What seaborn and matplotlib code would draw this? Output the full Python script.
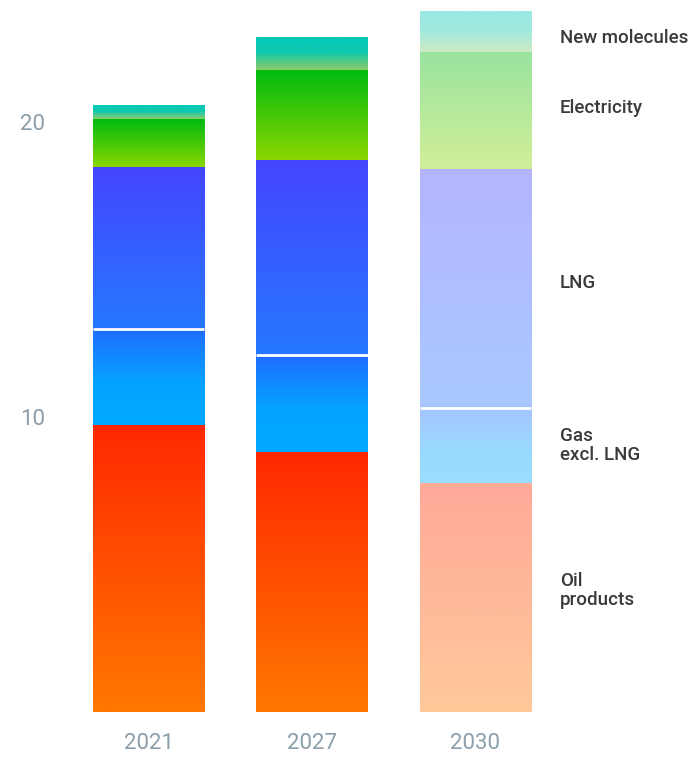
import numpy as np
import matplotlib
matplotlib.use("Agg")
import matplotlib.pyplot as plt
import seaborn as sns
from matplotlib.colors import to_rgb

# Demand by source for each year
years = ["2021", "2027", "2030"]
segments = ["Oil products", "Gas excl. LNG", "LNG", "Electricity", "New molecules"]
segment_labels = ["Oil\nproducts", "Gas\nexcl. LNG", "LNG", "Electricity", "New molecules"]
oil_products = [9.7, 8.8, 7.75]
gas_excl_lng = [3.3, 3.3, 2.55]
lng = [5.45, 6.6, 8.1]
electricity = [1.65, 3.05, 3.95]
new_molecules = [0.45, 1.1, 1.4]
yticks = [10, 20]

# Vertical gradient stops (0 = top of segment, 1 = bottom)
gradients = {
    "Oil products": [(0.0, "#ff2800"), (1.0, "#ff7800")],
    "Gas excl. LNG": [(0.0, "#1f6cff"), (0.55, "#05a2ff"), (1.0, "#00aaff")],
    "LNG": [(0.0, "#4545ff"), (1.0, "#2578ff")],
    "Electricity": [(0.0, "#00bb10"), (1.0, "#8cd600")],
    "New molecules": [(0.0, "#00c8b8"), (0.45, "#10c8b0"), (1.0, "#8ccc66")],
}
faded_years = {"2030": 0.4}

# Small vertical nudges (points) for the side labels
label_nudge = [5, 0, 4, 2, -4]

values = np.array([oil_products, gas_excl_lng, lng, electricity, new_molecules])
cum = np.cumsum(values, axis=0)


def gradient_image(stops, alpha=1.0, n=256):
    pos = np.array([s[0] for s in stops])
    cols = np.array([to_rgb(s[1]) for s in stops])
    t = np.linspace(0, 1, n)
    rgb = np.stack([np.interp(t, pos, cols[:, k]) for k in range(3)], axis=-1)
    rgb = alpha * rgb + (1 - alpha) * 1.0
    return rgb[:, None, :]


sns.set_theme(style="white")
plt.rcParams["font.family"] = ["Roboto", "DejaVu Sans"]

fig = plt.figure(figsize=(6.94, 7.57), dpi=100)
ax = fig.add_axes([60 / 694, 45 / 757, 480 / 694, 708 / 757])

bar_width = 0.68
for i in reversed(range(len(segments))):
    n_before = len(ax.patches)
    sns.barplot(x=years, y=cum[i], color="white", width=bar_width,
                saturation=1, ax=ax, edgecolor="none")
    new_patches = ax.patches[n_before:]
    for j, p in enumerate(new_patches):
        p.set_visible(False)
        x0, w = p.get_x(), p.get_width()
        lower = cum[i - 1][j] if i > 0 else 0.0
        upper = cum[i][j]
        alpha = faded_years.get(years[j], 1.0)
        img = gradient_image(gradients[segments[i]], alpha)
        ax.imshow(img, extent=[x0, x0 + w, lower, upper], origin="upper",
                  aspect="auto", interpolation="bilinear", zorder=2)
        if segments[i] == "Gas excl. LNG":
            ax.hlines(upper, x0, x0 + w, color="white", lw=2, zorder=4)

ax.set_xlim(-0.5413, 2.3945)
ax.set_ylim(0, 24)
ax.set_yticks(yticks)
ax.set_yticklabels([str(t) for t in yticks])
ax.tick_params(axis="y", length=0, pad=10.5, labelsize=16, labelcolor="#8a9eab")
ax.tick_params(axis="x", length=0, pad=15, labelsize=16, labelcolor="#8a9eab")
ax.set_xlabel("")
ax.set_ylabel("")
sns.despine(ax=ax, left=True, bottom=True)
ax.grid(False)

# Segment labels beside the last bar
for i, label in enumerate(segment_labels):
    lower = cum[i - 1][2] if i > 0 else 0.0
    mid = (lower + cum[i][2]) / 2
    ax.annotate(label, xy=(2.517, mid), xytext=(0, label_nudge[i]),
                textcoords="offset points", ha="left", va="center",
                fontsize=13.5, fontweight="medium", color="#3a3a3a",
                linespacing=1.1, annotation_clip=False)

fig.savefig("out.png", dpi=100)
